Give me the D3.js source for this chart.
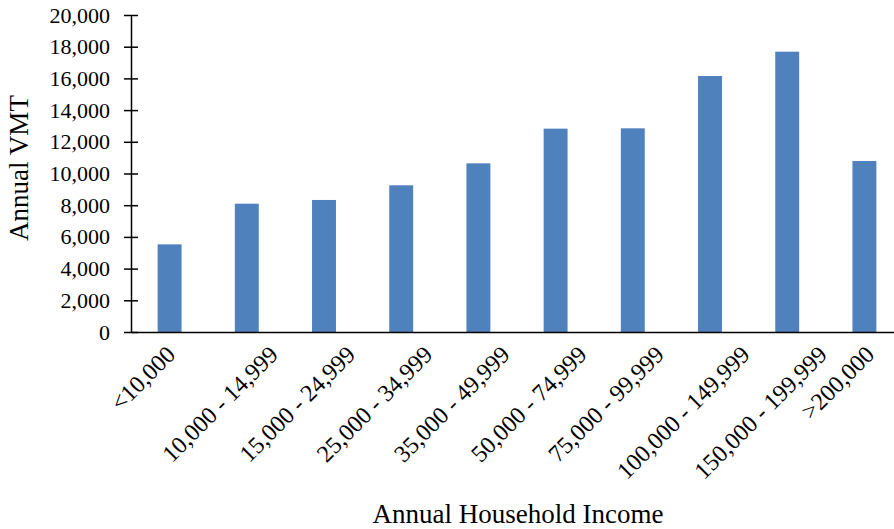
<!DOCTYPE html>
<html>
<head>
<meta charset="utf-8">
<script src="https://cdn.jsdelivr.net/npm/d3@7"></script>
<style>
  html, body { margin: 0; padding: 0; background: #fff; }
  svg { display: block; }
  text { font-family: "Liberation Serif", "Times New Roman", serif; fill: #000; }
</style>
</head>
<body>
<svg id="chart" width="894" height="529"></svg>
<script>
// Income brackets and average annual vehicle miles travelled
const categories = ["<10,000", "10,000 - 14,999", "15,000 - 24,999", "25,000 - 34,999",
  "35,000 - 49,999", "50,000 - 74,999", "75,000 - 99,999", "100,000 - 149,999",
  "150,000 - 199,999", ">200,000"];
const vmt = [5530, 8095, 8330, 9255, 10640, 12830, 12850, 16150, 17685, 10790];
const yTicks = [0, 2000, 4000, 6000, 8000, 10000, 12000, 14000, 16000, 18000, 20000];

const svg = d3.select("#chart");
const plot = { left: 131, right: 903, top: 15, bottom: 332 };

const x = d3.scaleBand().domain(categories).range([plot.left, plot.right]).paddingInner(0.69).paddingOuter(0.345);
const y = d3.scaleLinear().domain([0, 20000]).range([plot.bottom, plot.top]);

// bars
svg.append("g").selectAll("rect").data(categories).join("rect")
  .attr("x", d => x(d))
  .attr("width", x.bandwidth())
  .attr("y", (d, i) => y(vmt[i]))
  .attr("height", (d, i) => y(0) - y(vmt[i]))
  .attr("fill", "#4F81BD");

// y axis with ticks crossing the line
const yAxis = svg.append("g").attr("transform", `translate(${plot.left},0)`)
  .call(d3.axisLeft(y).tickValues(yTicks).tickFormat(d3.format(",")).tickSizeInner(7).tickSizeOuter(0).tickPadding(14));
yAxis.select(".domain").attr("stroke", "#000").attr("stroke-width", 1.5);
yAxis.selectAll(".tick line").attr("x2", 7).attr("x1", -7).attr("stroke", "#000").attr("stroke-width", 1.5);
yAxis.selectAll(".tick text").attr("font-size", 22).attr("fill", "#000");

// x axis; rotated labels are placed so their horizontal extent sits around the tick
const xAxis = svg.append("g").attr("transform", `translate(0,${plot.bottom})`)
  .call(d3.axisBottom(x).tickSize(0).tickPadding(0));
xAxis.select(".domain").attr("stroke", "#000").attr("stroke-width", 1.5);
xAxis.selectAll(".tick text")
  .attr("font-size", 24)
  .attr("fill", "#000")
  .attr("text-anchor", "end")
  .attr("dy", "0")
  .attr("y", 0)
  .attr("transform", function () {
    const len = this.getComputedTextLength();
    return `translate(${len * Math.SQRT1_2 / 2 - 21},24) rotate(-45)`;
  });

// axis titles
svg.append("text")
  .attr("transform", `translate(28,168) rotate(-90)`)
  .attr("text-anchor", "middle")
  .attr("font-size", 27)
  .text("Annual VMT");

svg.append("text")
  .attr("x", 518)
  .attr("y", 523)
  .attr("text-anchor", "middle")
  .attr("font-size", 27)
  .text("Annual Household Income");
</script>
</body>
</html>
